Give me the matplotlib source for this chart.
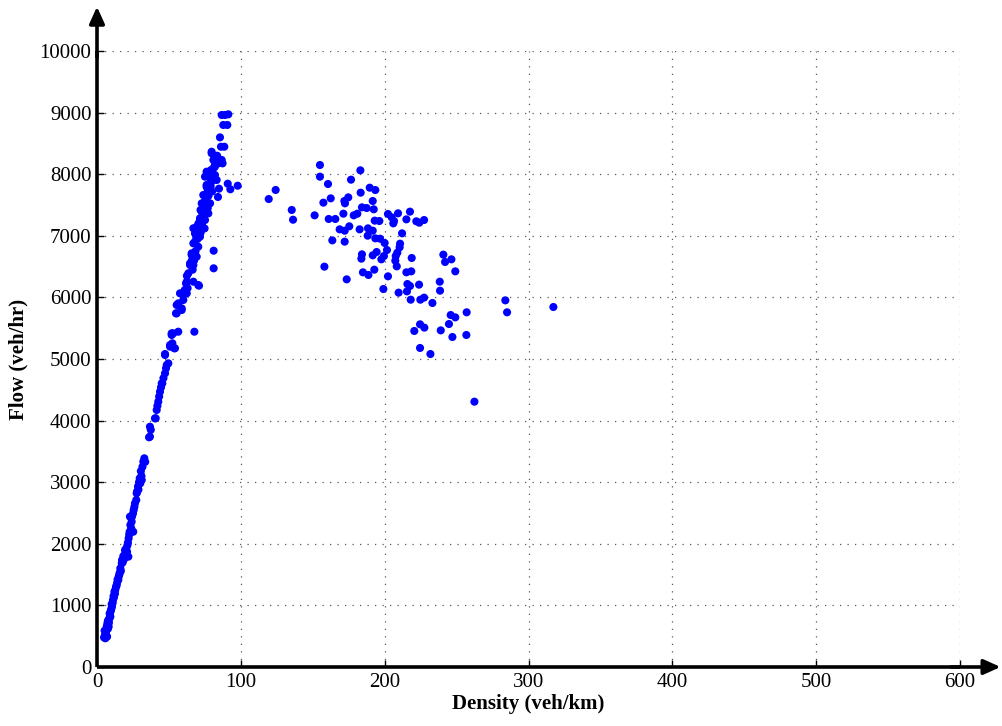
import matplotlib.pyplot as plt

# free-flow branch (density veh/km, flow veh/hr)
free_k = [5.8, 7.0, 5.6, 6.2, 6.5, 8.1, 7.2, 7.9, 8.6, 9.3, 8.8, 9.6, 10.4, 10.2, 11.1, 11.8,
          12.5, 12.7, 13.2, 13.9, 14.8, 15.1, 15.8, 16.2, 17.2, 17.4, 21.8, 18.3, 19.7, 20.4,
          19.5, 21.2, 22.0, 22.7, 25.2, 23.2, 22.9, 24.3, 25.5, 26.4, 27.3, 27.6, 27.8, 28.5,
          30.1, 29.7, 31.1, 30.5, 32.2, 32.9, 33.5,
          4.9, 6.5, 5.3, 7.6, 6.8, 8.3, 7.5, 9.0, 9.9, 10.9, 11.5, 12.1, 13.6, 14.3, 15.5, 16.6,
          17.9, 18.8, 20.9, 21.5, 22.4, 23.8, 24.1, 25.0, 26.0, 28.8, 29.2, 30.9, 31.6,
          36.2, 36.8, 36.8, 37.4, 40.3, 40.8, 41.5, 42.0, 42.6, 43.2, 43.8, 44.5, 45.0, 45.4,
          46.2, 47.3, 48.0, 48.5, 49.6, 47.3, 47.3, 50.8, 50.8, 52.4, 54.2, 53.7, 51.9, 51.9,
          53.0, 56.5, 67.7,
          54.9, 55.4, 55.4, 58.9, 58.9, 56.5, 60.0, 57.7, 62.4, 60.0, 61.9, 62.4, 67.0, 70.9,
          70.4, 63.5, 64.7, 67.0, 64.7, 69.3, 65.8, 65.8, 70.4, 67.0, 68.1, 71.6, 68.1, 73.9,
          67.0, 69.3, 71.6, 75.1, 71.6, 72.8, 75.1, 76.2, 77.4, 73.9, 76.2, 77.4, 78.6, 72.8,
          75.1, 73.9, 78.6, 76.2, 76.2, 79.7, 78.6, 83.2, 75.1, 78.6, 82.0, 76.2, 79.3, 82.0,
          82.0, 84.3, 87.3, 86.7, 80.9, 82.0, 79.7, 79.7, 86.2, 88.5, 85.5, 87.8, 90.6, 86.7,
          89.0, 91.3,
          66.0, 68.5, 70.0, 72.0, 70.5, 73.0, 74.0, 74.5, 77.0, 75.5, 77.5, 77.0, 79.0, 80.5,
          81.0, 83.5, 62.5, 63.0, 61.0, 66.5, 67.5, 69.0, 74.8, 72.0, 80.0,
          81.1, 81.1, 84.8, 84.1, 90.9, 92.7, 97.8]
free_q = [466, 492, 520, 560, 610, 654, 700, 763, 790, 817, 870, 910, 979, 1020, 1088, 1130,
          1190, 1250, 1300, 1359, 1412, 1466, 1530, 1602, 1683, 1737, 1791, 1800, 1846, 1927,
          1899, 1980, 2089, 2196, 2196, 2305, 2440, 2440, 2549, 2657, 2711, 2820, 2846, 2930,
          2982, 3063, 3036, 3180, 3333, 3388, 3330,
          480, 510, 590, 620, 660, 720, 740, 850, 940, 1040, 1150, 1220, 1320, 1420, 1500, 1560,
          1700, 1750, 1870, 2020, 2150, 2250, 2360, 2490, 2600, 2880, 3000, 3100, 3250,
          3729, 3739, 3901, 3850, 4037, 4037, 4172, 4240, 4307, 4390, 4469, 4540, 4605, 4605,
          4690, 4768, 4850, 4903, 4930, 5065, 5081, 5200, 5227, 5255, 5174, 5174, 5390, 5417,
          5417, 5443, 5443,
          5741, 5741, 5877, 5795, 5822, 5903, 5958, 6066, 6066, 6039, 6228, 6255, 6255, 6190,
          6201, 6391, 6526, 6526, 6553, 6661, 6688, 6715, 6823, 6877, 6904, 6985, 7039, 7122,
          7122, 7148, 7256, 7256, 7284, 7391, 7391, 7391, 7364, 7527, 7554, 7527, 7527, 7527,
          7662, 7662, 7716, 7797, 7825, 7878, 7933, 7906, 7960, 7987, 7987, 8041, 8068, 8122,
          8149, 8176, 8176, 8231, 8231, 8258, 8339, 8365, 8446, 8446, 8598, 8799, 8799, 8961,
          8961, 8972,
          6600, 6750, 6950, 7050, 7200, 7200, 7320, 7450, 7450, 7600, 7650, 7750, 7800, 8000,
          8100, 8300, 6350, 6150, 6120, 6450, 6600, 6980, 7120, 7420, 7720,
          6758, 6472, 7765, 7630, 7846, 7755, 7813]

# congested branch
cong_k = [119.4, 124.2, 135.4, 136.3,
          155.0, 155.0, 160.6, 183.1, 176.6, 189.6, 193.5, 183.3, 157.4, 162.5, 172.0, 172.4,
          174.7, 191.7, 151.3, 161.1, 165.7, 171.3, 178.5, 181.0, 184.2, 187.5, 192.4, 193.1,
          196.3, 202.3, 204.9, 206.5, 206.0, 209.3, 215.1, 217.6, 222.0, 224.1, 227.4, 168.7,
          172.2, 175.4, 182.6, 188.4, 191.7, 188.2, 193.5, 196.8, 200.0, 163.6, 172.2, 212.1,
          201.6, 210.4, 210.7, 208.8, 207.7, 191.7, 194.4, 184.2, 183.8, 199.5, 197.7, 207.4,
          208.4, 218.8, 158.1, 173.6, 184.9, 188.7, 192.8, 202.3, 215.1, 218.5, 199.1, 209.7,
          215.8, 217.6, 215.5, 223.9, 218.1, 224.8, 227.4, 233.2, 238.3, 238.5, 240.8, 246.4,
          242.0, 249.1, 283.9, 285.1, 317.3, 257.0, 245.9, 249.1, 244.7, 224.6, 227.6, 220.6,
          239.0, 247.1, 256.8, 224.6, 231.8, 262.4]
cong_q = [7597, 7744, 7419, 7261,
          8149, 7960, 7841, 8063, 7911, 7781, 7743, 7700, 7538, 7608, 7565, 7527,
          7624, 7565, 7332, 7273, 7273, 7359, 7332, 7359, 7462, 7451, 7430, 7246,
          7240, 7354, 7300, 7240, 7202, 7365, 7267, 7392, 7235, 7213, 7256, 7105,
          7083, 7154, 7105, 7121, 7083, 7002, 6959, 6953, 6883, 6926, 6905, 7040,
          6769, 6813, 6872, 6726, 6672, 6683, 6737, 6699, 6629, 6672, 6618, 6596,
          6504, 6640, 6499, 6293, 6407, 6364, 6450, 6342, 6407, 6423, 6136, 6077,
          6217, 6185, 6098, 6207, 5963, 5963, 5996, 5909, 6255, 6109, 6694, 6618,
          6575, 6423, 5952, 5758, 5844, 5758, 5714, 5676, 5568, 5563, 5509, 5455,
          5465, 5357, 5390, 5179, 5081, 4307]

xticks = list(range(0, 700, 100))
yticks = list(range(0, 11000, 1000))

plt.rcParams['font.family'] = ['Liberation Serif', 'DejaVu Serif']

fig = plt.figure(figsize=(10.02, 7.26), dpi=100)
ax = fig.add_axes([97 / 1002, 59 / 726, 863 / 1002, 616 / 726])

ax.scatter(free_k, free_q, s=34, color='#0000ff', edgecolors='none', zorder=3)
ax.scatter(cong_k, cong_q, s=34, color='#0000ff', edgecolors='none', zorder=3)

ax.set_xlim(0, 600)
ax.set_ylim(0, 10000)
ax.set_xticks(xticks)
ax.set_yticks(yticks)
ax.tick_params(direction='in', length=5, width=1, labelsize=15, pad=4)
ax.grid(True, linestyle=(0, (1, 5)), color='0.35', linewidth=0.9)

for side in ['top', 'right']:
    ax.spines[side].set_visible(False)
for side in ['left', 'bottom']:
    ax.spines[side].set_linewidth(2.6)
    ax.spines[side].set_capstyle('butt')

arrow = dict(arrowstyle='-|>,head_length=1.0,head_width=0.45', color='black', lw=2.6,
             shrinkA=0, shrinkB=0)
ax.annotate('', xy=(1.047, 0), xytext=(0.99, 0), xycoords='axes fraction',
            arrowprops=arrow, annotation_clip=False)
ax.annotate('', xy=(0, 1.072), xytext=(0, 0.99), xycoords='axes fraction',
            arrowprops=arrow, annotation_clip=False)

ax.set_xlabel('Density (veh/km)', fontsize=15, fontweight='bold', labelpad=2)
ax.set_ylabel('Flow (veh/hr)', fontsize=15, fontweight='bold', labelpad=8)

fig.savefig('out.png', dpi=100)
